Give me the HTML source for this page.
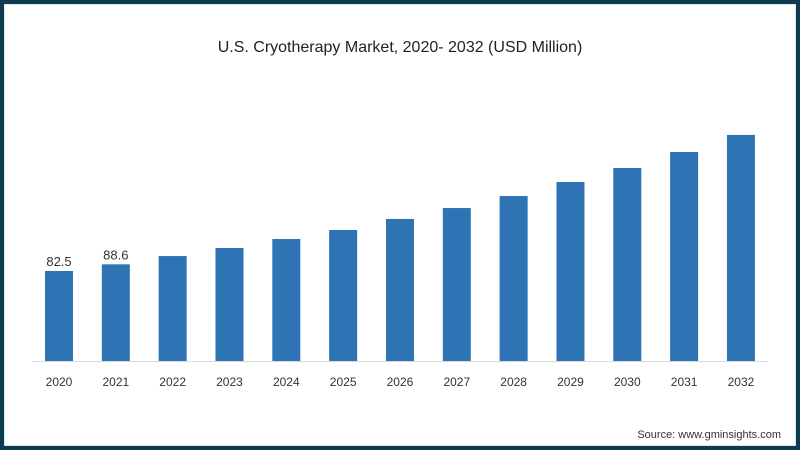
<!DOCTYPE html>
<html><head><meta charset="utf-8"><style>
html,body{margin:0;padding:0;background:#fff;}
#frame{position:relative;width:800px;height:450px;box-sizing:border-box;border:4px solid #0e3b50;background:#fff;overflow:hidden;}
#inner{position:absolute;left:0;top:0;right:0;bottom:0;border:1px solid #d8e4ea;}
svg{position:absolute;left:-4px;top:-4px;}
text{font-family:"Liberation Sans",sans-serif;}
</style></head><body>
<div id="frame"><div id="inner"></div>
<svg id="chart" width="800" height="450">
<text x="400" y="52" text-anchor="middle" font-size="16" fill="#222">U.S. Cryotherapy Market, 2020- 2032 (USD Million)</text>
<line x1="32" y1="361.5" x2="768" y2="361.5" stroke="#d9d9d9" stroke-width="1"/>
<g id="bars"></g>
<text x="781" y="438" text-anchor="end" font-size="11" fill="#333">Source: www.gminsights.com</text>
</svg></div>
<script>
const categories=["2020","2021","2022","2023","2024","2025","2026","2027","2028","2029","2030","2031","2032"];
const values=[82.5,88.6,96.2,103.6,111.8,120.1,130.2,140.2,151.2,164.1,176.9,191.6,207.2];
const valueLabels=["82.5","88.6","","","","","","","","","","",""];
const baseY=361, pxPerUnit=1.091, x0=45, step=56.83, barW=28;
function xPos(i){return x0+i*step;}
function yPos(v){return baseY-v*pxPerUnit;}
const ns="http://www.w3.org/2000/svg";
const g=document.getElementById('bars');
categories.forEach((c,i)=>{
  const r=document.createElementNS(ns,'rect');
  r.setAttribute('x',xPos(i));r.setAttribute('y',yPos(values[i]));
  r.setAttribute('width',barW);r.setAttribute('height',baseY-yPos(values[i]));
  r.setAttribute('fill','#2e74b5');
  
  
  g.appendChild(r);
  const t=document.createElementNS(ns,'text');
  t.setAttribute('x',xPos(i)+barW/2);t.setAttribute('y',386);
  t.setAttribute('text-anchor','middle');t.setAttribute('font-size','12');t.setAttribute('fill','#333');
  t.textContent=c;
  
  
  g.appendChild(t);
  if(valueLabels[i]){
    const l=document.createElementNS(ns,'text');
    l.setAttribute('x',xPos(i)+barW/2);l.setAttribute('y',yPos(values[i])-5);
    l.setAttribute('text-anchor','middle');l.setAttribute('font-size','13');l.setAttribute('fill','#333');
    l.textContent=valueLabels[i];
    
    
    g.appendChild(l);
  }
});
</script>
</body></html>
